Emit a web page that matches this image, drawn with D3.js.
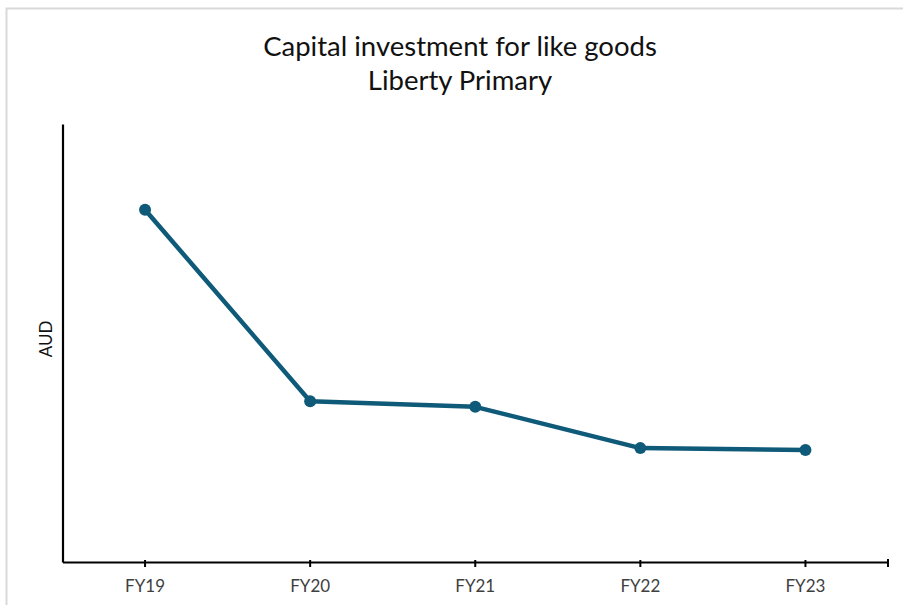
<!DOCTYPE html>
<html>
<head>
<meta charset="utf-8">
<script src="https://cdn.jsdelivr.net/npm/d3@7"></script>
<style>
  html, body { margin: 0; padding: 0; background: #ffffff; }
  svg { display: block; font-family: "Lato", "Open Sans", sans-serif; }
</style>
</head>
<body>
<svg id="chart" width="903" height="605"></svg>
<script>
// Capital investment by financial year (AUD, thousands)
const years = ["FY19", "FY20", "FY21", "FY22", "FY23"];
const investment = [56.3, 25.7, 24.8, 18.2, 17.9];
const titleLines = ["Capital investment for like goods", "Liberty Primary"];
const yLabel = "AUD";

const svg = d3.select("#chart");
const W = 903, H = 605;
const plot = { left: 62.5, right: 888, top: 124, bottom: 562 };
const lineColor = "#0e5a78";

// outer frame (top and left edges)
svg.append("path")
  .attr("d", `M6.5,${H} V8.5 H${W}`)
  .attr("fill", "none")
  .attr("stroke", "#d9d9d9")
  .attr("stroke-width", 2);

// title
const title = svg.append("text")
  .attr("text-anchor", "middle")
  .attr("fill", "#111")
  .style("font-size", "27.5px");
titleLines.forEach((t, i) => {
  title.append("tspan")
    .attr("x", 460)
    .attr("y", 56 + i * 34)
    .text(t);
});

const x = d3.scaleBand()
  .domain(years)
  .range([plot.left, plot.right])
  .padding(0);

const y = d3.scaleLinear()
  .domain([0, 70])
  .range([plot.bottom, plot.top]);

const cx = d => x(d) + x.bandwidth() / 2;

// x axis with ticks at category centres
const xAxis = svg.append("g")
  .attr("transform", `translate(0,${plot.bottom})`)
  .call(d3.axisBottom(x).tickSize(5).tickSizeOuter(0).tickPadding(13));
xAxis.select(".domain").attr("stroke", "#000").attr("stroke-width", 2.2);
xAxis.selectAll(".tick line").attr("stroke", "#000").attr("stroke-width", 2).attr("y1", -2);
xAxis.selectAll(".tick text")
  .attr("fill", "#404040")
  .attr("font-size", 17)
  .attr("font-family", "Lato, sans-serif");
// closing tick at the right end of the axis
xAxis.append("line")
  .attr("x1", plot.right).attr("x2", plot.right)
  .attr("y1", -3).attr("y2", 5)
  .attr("stroke", "#000").attr("stroke-width", 2);

// y axis: bare line
const yAxis = svg.append("g")
  .attr("transform", `translate(${plot.left},0)`)
  .call(d3.axisLeft(y).tickValues([]).tickSizeOuter(0));
yAxis.select(".domain").attr("stroke", "#000").attr("stroke-width", 2.2);

svg.append("text")
  .attr("transform", `translate(51.5,339) rotate(-90)`)
  .attr("text-anchor", "middle")
  .attr("fill", "#111")
  .style("font-size", "17px")
  .text(yLabel);

// series line and markers
const points = years.map((yr, i) => ({ yr, v: investment[i] }));
svg.append("path")
  .datum(points)
  .attr("fill", "none")
  .attr("stroke", lineColor)
  .attr("stroke-width", 4.5)
  .attr("stroke-linejoin", "round")
  .attr("d", d3.line().x(d => cx(d.yr)).y(d => y(d.v)));

svg.selectAll("circle.pt")
  .data(points)
  .join("circle")
  .attr("class", "pt")
  .attr("cx", d => cx(d.yr))
  .attr("cy", d => y(d.v))
  .attr("r", 6)
  .attr("fill", lineColor);
</script>
</body>
</html>
